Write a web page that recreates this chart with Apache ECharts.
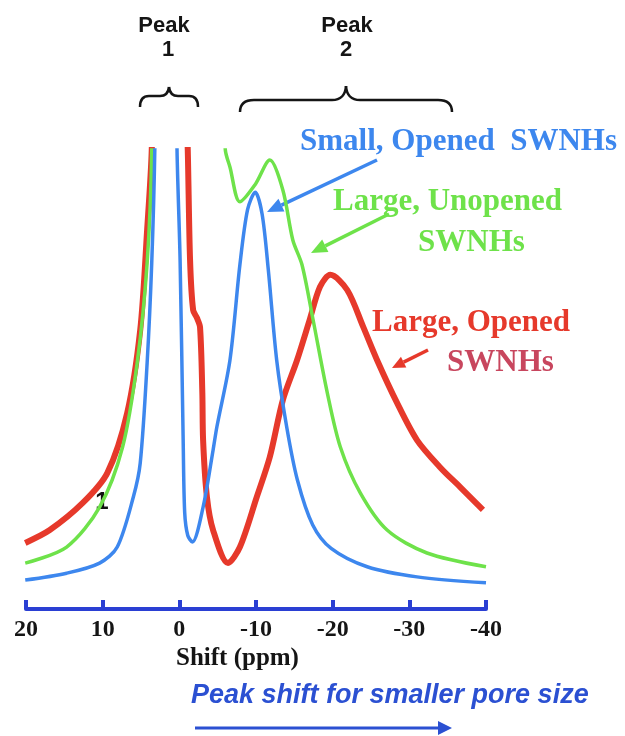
<!DOCTYPE html>
<html>
<head>
<meta charset="utf-8">
<script src="https://cdn.jsdelivr.net/npm/echarts@6/dist/echarts.min.js"></script>
<style>
  html, body { margin: 0; padding: 0; background: #fff; }
  #chart { width: 625px; height: 736px; }
</style>
</head>
<body>
<div id="chart"></div>
<script>
// chemical shift (ppm) vs intensity (arbitrary units)
const xTicks = [20, 10, 0, -10, -20, -30, -40]

const smallOpened = [
  [20.1, 6.3], [14.7, 7.8], [10.4, 10.0], [8.1, 13.5], [6.0, 24.4], [5.1, 31.8],
  [4.2, 53.6], [3.6, 75.4], [3.2, 100], [1.8, 260], [0.3, 100], [-0.1, 76.0],
  [-0.5, 36.8], [-0.7, 21.0], [-1.1, 16.0], [-1.7, 14.6], [-3.1, 22.2], [-4.4, 34.6],
  [-4.9, 39.7], [-6.6, 54.2], [-7.9, 75.0], [-8.9, 87.0], [-9.9, 90.8], [-10.8, 86.0],
  [-11.6, 74.0], [-12.7, 54.2], [-14.0, 39.7], [-15.4, 28.1], [-17.4, 18.3],
  [-19.8, 13.2], [-24.5, 9.2], [-31.0, 7.0], [-40.0, 5.7]
]

const largeUnopened = [
  [20.1, 10.0], [14.7, 13.5], [10.4, 22.2], [7.4, 35.3], [5.5, 53.6], [4.2, 75.4],
  [3.6, 100], [2.5, 250], [-2.0, 200], [-5.0, 130], [-6.0, 100], [-6.6, 96.3],
  [-7.9, 88.7], [-9.9, 92.5], [-11.8, 97.8], [-13.5, 91.3], [-14.8, 80.4],
  [-16.0, 75.0], [-17.4, 63.4], [-19.3, 47.1], [-21.0, 35.3], [-23.6, 25.3],
  [-27.1, 17.2], [-32.3, 12.2], [-40.0, 9.2]
]

const largeOpened = [
  [20.1, 14.4], [16.9, 17.2], [12.6, 23.1], [9.4, 29.6], [6.8, 42.7], [5.1, 60.8],
  [4.2, 82.6], [3.6, 100], [1.2, 250], [-1.1, 100], [-1.4, 76.0], [-1.8, 65.1],
  [-2.3, 63.4], [-2.7, 61.4], [-3.0, 47.1], [-3.1, 36.8], [-3.6, 24.4], [-4.4, 17.2],
  [-6.35, 10.0], [-7.9, 13.5], [-10.1, 24.4], [-11.8, 33.1], [-13.5, 45.5],
  [-15.35, 54.2], [-17.0, 63.0], [-18.35, 70.2], [-19.7, 72.8], [-21.9, 69.5],
  [-24.0, 61.4], [-25.8, 54.2], [-28.4, 44.9], [-31.0, 36.8], [-34.0, 30.9],
  [-36.6, 26.6], [-39.6, 21.6]
]

const BLUE = '#3d87ee'
const GREEN = '#6ee24a'
const RED = '#e6392b'
const AXIS_BLUE = '#2a3fd3'

const chart = echarts.init(document.getElementById('chart'))

function arrow(x1, y1, x2, y2, color, width, headLen, headW) {
  const dx = x2 - x1
  const dy = y2 - y1
  const len = Math.sqrt(dx * dx + dy * dy)
  const ux = dx / len
  const uy = dy / len
  const bx = x2 - ux * headLen
  const by = y2 - uy * headLen
  return [
    {
      type: 'line',
      shape: { x1: x1, y1: y1, x2: bx, y2: by },
      style: { stroke: color, lineWidth: width },
    },
    {
      type: 'polygon',
      shape: {
        points: [
          [x2, y2],
          [bx - uy * headW, by + ux * headW],
          [bx + uy * headW, by - ux * headW],
        ],
      },
      style: { fill: color },
    },
  ]
}

// curly brace opening downward: ends at yEnd, flat part at yMid, cusp at yTop
function brace(xl, xr, xc, yTop, yMid, yEnd, r) {
  const st = { stroke: '#151515', lineWidth: 2.5, fill: null }
  const q = (x1, y1, cx, cy, x2, y2) => ({
    type: 'bezierCurve',
    shape: { x1: x1, y1: y1, cpx1: cx, cpy1: cy, x2: x2, y2: y2 },
    style: st,
  })
  const l = (x1, y1, x2, y2) => ({ type: 'line', shape: { x1: x1, y1: y1, x2: x2, y2: y2 }, style: st })
  return [
    q(xl, yEnd, xl, yMid, xl + r, yMid),
    l(xl + r, yMid, xc - r, yMid),
    q(xc - r, yMid, xc - 1, yMid, xc, yTop),
    q(xc, yTop, xc + 1, yMid, xc + r, yMid),
    l(xc + r, yMid, xr - r, yMid),
    q(xr - r, yMid, xr, yMid, xr, yEnd),
  ]
}

function label(text, x, y, color, size) {
  return {
    type: 'text',
    x: x,
    y: y,
    style: {
      text: text,
      fill: color,
      font: 'bold ' + size + 'px "Liberation Serif", serif',
      verticalAlign: 'middle',
    },
  }
}

function peakLabel(text, x, y) {
  return {
    type: 'text',
    x: x,
    y: y,
    style: {
      text: text,
      fill: '#151515',
      font: 'bold 22px "Liberation Sans", Arial, sans-serif',
      align: 'center',
      verticalAlign: 'middle',
    },
  }
}

const graphics = [
  peakLabel('Peak', 164, 26),
  peakLabel('1', 168, 50),
  peakLabel('Peak', 347, 26),
  peakLabel('2', 346, 50),
  ...brace(140, 198, 169, 87, 96, 107, 9),
  ...brace(240, 452, 346, 86, 100, 112, 14),
  label('Small, Opened  SWNHs', 300, 142, BLUE, 31),
  label('Large, Unopened', 333, 202, GREEN, 31),
  label('SWNHs', 418, 243, GREEN, 31),
  label('Large, Opened', 372, 323, RED, 31),
  label('SWNHs', 447, 363, '#c8465e', 31),
  ...arrow(377, 160, 267, 212, BLUE, 3.5, 16, 7),
  ...arrow(389, 214, 311, 253, GREEN, 3.5, 16, 7),
  ...arrow(428, 350, 392, 368, RED, 3.5, 13, 6),
  {
    type: 'text',
    x: 102,
    y: 502,
    style: { text: '1', fill: '#111', font: 'bold 24px "Liberation Sans", sans-serif', align: 'center', verticalAlign: 'middle' },
  },
  {
    type: 'text',
    x: 176,
    y: 659,
    style: { text: 'Shift (ppm)', fill: '#151515', font: 'bold 25px "Liberation Serif", serif', verticalAlign: 'middle' },
  },
  {
    type: 'text',
    x: 191,
    y: 696,
    style: {
      text: 'Peak shift for smaller pore size',
      fill: '#2b50d2',
      font: 'italic bold 27px "Liberation Sans", Arial, sans-serif',
      verticalAlign: 'middle',
    },
  },
  ...arrow(195, 728, 452, 728, '#2b50d2', 3, 14, 7),
]

const option = {
  animation: false,
  backgroundColor: '#fff',
  grid: { left: 26, right: 139, top: 150, bottom: 127 },
  xAxis: {
    type: 'value',
    inverse: true,
    min: -40,
    max: 20,
    interval: 10,
    splitLine: { show: false },
    axisLine: { lineStyle: { color: AXIS_BLUE, width: 4 } },
    axisTick: { inside: true, length: 9, lineStyle: { color: AXIS_BLUE, width: 4 } },
    axisLabel: {
      color: '#151515',
      fontFamily: '"Liberation Serif", serif',
      fontWeight: 'bold',
      fontSize: 24,
      margin: 9,
      formatter: (v) => (xTicks.indexOf(v) >= 0 ? String(v) : ''),
    },
  },
  yAxis: {
    type: 'value',
    min: 0,
    max: 100,
    show: false,
  },
  series: [
    {
      name: 'Large, Opened SWNHs',
      type: 'line',
      data: largeOpened,
      showSymbol: false,
      smooth: 0.3,
      clip: true,
      lineStyle: { color: RED, width: 6 },
      z: 1,
    },
    {
      name: 'Large, Unopened SWNHs',
      type: 'line',
      data: largeUnopened,
      showSymbol: false,
      smooth: 0.3,
      clip: true,
      lineStyle: { color: GREEN, width: 3.5 },
      z: 2,
    },
    {
      name: 'Small, Opened SWNHs',
      type: 'line',
      data: smallOpened,
      showSymbol: false,
      smooth: 0.3,
      clip: true,
      lineStyle: { color: BLUE, width: 3.5 },
      z: 3,
    },
  ],
  graphic: graphics,
}

chart.setOption(option)
</script>
</body>
</html>
